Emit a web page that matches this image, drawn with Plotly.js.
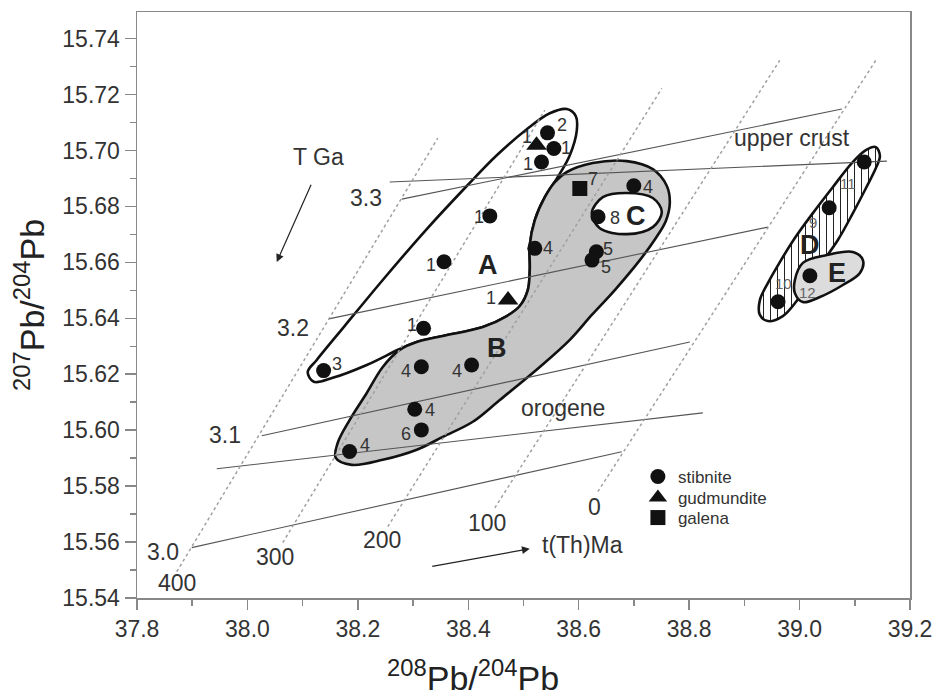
<!DOCTYPE html>
<html><head><meta charset="utf-8">
<script src="https://cdn.plot.ly/plotly-3.0.1.min.js"></script>
<style>html,body{margin:0;padding:0;background:#fff;}#chart{width:938px;height:700px;}</style>
</head><body><div id="chart"></div>
<script>
// ---- data (208Pb/204Pb, 207Pb/204Pb) ----
const stibX = [38.5435, 38.555, 38.5326, 38.439, 38.5205, 38.356, 38.319, 38.138, 38.315, 38.406, 38.303, 38.315, 38.185, 38.6998, 38.635, 38.632, 38.624, 39.117, 39.0536, 39.0187, 38.961];
const stibY = [15.7063, 15.7007, 15.6959, 15.6766, 15.665, 15.6602, 15.6364, 15.6213, 15.6227, 15.6233, 15.6075, 15.6001, 15.5924, 15.6874, 15.6763, 15.6638, 15.6608, 15.6959, 15.6795, 15.6552, 15.6459];
const stibLab = ['2','1','1','1','4','1','1','3','4','4','4','6','4','4','8','5','5','11','9','12','10'];
const gudX = [38.5236, 38.472];
const gudY = [15.7019, 15.6465];
const gudLab = ['1','1'];
const galX = [38.602];
const galY = [15.6864];
const galLab = ['7'];

// field outlines
const fieldAX = [38.5785,38.5947,38.5966,38.5839,38.5621,38.5386,38.5205,38.5114,38.5114,38.5078,38.4933,38.4697,38.4263,38.3538,38.3067,38.2759,38.2161,38.1545,38.1201,38.1092,38.1255,38.1763,38.2451,38.3248,38.3973,38.4516,38.5060,38.5476,38.5785];
const fieldAY = [15.7148,15.7123,15.7073,15.6983,15.6905,15.6833,15.6751,15.6662,15.6573,15.6501,15.6444,15.6408,15.6369,15.6337,15.6315,15.6290,15.6233,15.6187,15.6173,15.6208,15.6251,15.6373,15.6537,15.6719,15.6873,15.6983,15.7076,15.7133,15.7148];
const fieldBX = [38.5785,38.6255,38.6871,38.7342,38.7596,38.7650,38.7578,38.7397,38.7107,38.6654,38.6237,38.5839,38.5295,38.4571,38.4082,38.3538,38.3067,38.2451,38.1889,38.1600,38.1636,38.1853,38.2161,38.2451,38.2759,38.3067,38.3538,38.4263,38.4697,38.4933,38.5078,38.5114,38.5114,38.5205,38.5386,38.5567,38.5785];
const fieldBY = [15.6923,15.6955,15.6962,15.6933,15.6873,15.6812,15.6748,15.6687,15.6608,15.6501,15.6412,15.6323,15.6226,15.6108,15.6030,15.5976,15.5930,15.5894,15.5876,15.5901,15.5955,15.6037,15.6133,15.6226,15.6287,15.6315,15.6337,15.6369,15.6408,15.6444,15.6501,15.6573,15.6662,15.6751,15.6833,15.6887,15.6923];
const fieldCX = [38.6237,38.6437,38.6871,38.7342,38.7505,38.7342,38.6871,38.6382,38.6237];
const fieldCY = [15.6776,15.6833,15.6848,15.6830,15.6780,15.6726,15.6701,15.6722,15.6776];
const fieldDX = [39.1382,39.1455,39.1382,39.1201,39.0966,39.0694,39.0404,39.0150,38.9933,38.9697,38.9426,38.9281,38.9281,38.9426,38.9643,38.9915,39.0241,39.0603,39.0947,39.1201,39.1382];
const fieldDY = [15.7012,15.6980,15.6937,15.6865,15.6776,15.6680,15.6598,15.6523,15.6458,15.6408,15.6390,15.6412,15.6465,15.6526,15.6601,15.6687,15.6776,15.6869,15.6955,15.7001,15.7012];
const fieldEX = [38.9915,39.0060,39.0495,39.0966,39.1147,39.1093,39.0784,39.0368,39.0060,38.9915,38.9915];
const fieldEY = [15.6537,15.6598,15.6626,15.6637,15.6608,15.6562,15.6519,15.6476,15.6458,15.6490,15.6537];

// model lines (solid) and time lines (dotted)
const modelX = [[38.2578,39.1582],[38.2795,39.0766],[38.1473,38.9425],[38.0259,38.8012],[37.9444,38.8248],[37.8991,38.678]];
const modelY = [[15.6887,15.6962],[15.6826,15.7148],[15.6398,15.6726],[15.598,15.6315],[15.5862,15.6062],[15.558,15.5923]];
const isoX = [[37.872,38.3447],[38.064,38.5386],[38.2542,38.7505],[38.448,38.964],[38.6346,39.138]];
const isoY = [[15.5494,15.7044],[15.5598,15.7144],[15.5655,15.7222],[15.5722,15.7322],[15.578,15.7322]];

// text labels
const txt = ['T Ga','3.3','3.2','3.1','3.0','400','300','200','100','0','orogene','upper crust','t(Th)Ma'];
const txtX = [38.1292,38.2143,38.0821,37.9591,37.8466,37.8719,38.0494,38.2433,38.4335,38.6292,38.5714,38.9861,38.6074];
const txtY = [15.6976,15.683,15.6365,15.5983,15.5565,15.5455,15.5548,15.5608,15.5669,15.5726,15.608,15.7044,15.559];
const fieldLab = ['A','B','C','D','E'];
const fieldLabX = [38.4357,38.4520,38.7038,39.0190,39.0679];
const fieldLabY = [15.659,15.6294,15.6765,15.6662,15.6562];

// ---- presentation ----
const FONT = 'Liberation Sans, Arial, sans-serif';
const stibOff = [[14,-8],[12,-1],[-14,2],[-11,1],[13,0],[-13,3],[-12,-3],[13,-7],[-15,4],[-15,6],[15,1],[-15,4],[15,-6],[14,1],[17,1],[12,-3],[14,7],[-16,22],[-16,15],[-2,17],[5,-18]];
const gudOff = [[-10,-8],[-17,-2]];
const galOff = [[13,-10]];

const traces = [];
function field(x, y, fill, extra) {
  const t = {x: x, y: y, mode: 'lines', fill: 'toself', fillcolor: fill,
    line: {color: '#111', width: 2.6, shape: 'spline', smoothing: 1}, hoverinfo: 'skip', showlegend: false};
  return Object.assign(t, extra || {});
}
traces.push(field(fieldAX, fieldAY, '#ffffff'));
traces.push(field(fieldBX, fieldBY, '#c6c6c6'));
traces.push(field(fieldCX, fieldCY, '#ffffff'));
traces.push(field(fieldDX, fieldDY, '#ffffff', {fillpattern: {shape: '|', fgcolor: '#222', bgcolor: '#ffffff', size: 7, solidity: 0.15}}));
traces.push(field(fieldEX, fieldEY, '#dcdcdc'));
for (let i = 0; i < modelX.length; i++) {
  traces.push({x: modelX[i], y: modelY[i], mode: 'lines', line: {color: '#555', width: 1.1}, hoverinfo: 'skip', showlegend: false});
}
for (let i = 0; i < isoX.length; i++) {
  traces.push({x: isoX[i], y: isoY[i], mode: 'lines', line: {color: '#a0a0a0', width: 1.5, dash: 'dot'}, hoverinfo: 'skip', showlegend: false});
}
traces.push({x: stibX, y: stibY, mode: 'markers', name: 'stibnite', legend: 'legend', marker: {symbol: 'circle', size: 15, color: '#111'}});
traces.push({x: gudX, y: gudY, mode: 'markers', name: 'gudmundite', legend: 'legend2', marker: {symbol: 'triangle-up', size: 18, color: '#111'}});
traces.push({x: galX, y: galY, mode: 'markers', name: 'galena', legend: 'legend3', marker: {symbol: 'square', size: 15, color: '#111'}});

const ann = [];
function ptLabels(xs, ys, labs, offs) {
  for (let i = 0; i < xs.length; i++) {
    const small = labs[i].length > 1 || labs[i] === '9';
    ann.push({x: xs[i], y: ys[i], xref: 'x', yref: 'y', text: labs[i], showarrow: false,
      xshift: offs[i][0], yshift: -offs[i][1],
      font: {family: FONT, size: small ? 15 : 18, color: small ? '#666' : '#333'}});
  }
}
ptLabels(stibX, stibY, stibLab, stibOff);
ptLabels(gudX, gudY, gudLab, gudOff);
ptLabels(galX, galY, galLab, galOff);
for (let i = 0; i < txt.length; i++) {
  ann.push({x: txtX[i], y: txtY[i], xref: 'x', yref: 'y', text: txt[i], showarrow: false,
    font: {family: FONT, size: 23, color: '#333'}});
}
for (let i = 0; i < fieldLab.length; i++) {
  ann.push({x: fieldLabX[i], y: fieldLabY[i], xref: 'x', yref: 'y', text: '<b>' + fieldLab[i] + '</b>', showarrow: false,
    font: {family: FONT, size: 27, color: '#222'}});
}
// arrows
ann.push({x: 38.0531, y: 15.6601, ax: 38.1165, ay: 15.6883, xref: 'x', yref: 'y', axref: 'x', ayref: 'y',
  text: '', showarrow: true, arrowhead: 2, arrowsize: 1.3, arrowwidth: 1.2, arrowcolor: '#222'});
ann.push({x: 38.5114, y: 15.5576, ax: 38.332, ay: 15.5512, xref: 'x', yref: 'y', axref: 'x', ayref: 'y',
  text: '', showarrow: true, arrowhead: 2, arrowsize: 1.3, arrowwidth: 1.2, arrowcolor: '#222'});
// axis titles
ann.push({x: 0, y: 0.5, xref: 'paper', yref: 'paper', xanchor: 'center', yanchor: 'middle', xshift: -108,
  text: '<sup>207</sup>Pb/<sup>204</sup>Pb', textangle: -90, showarrow: false, font: {family: FONT, size: 34, color: '#222'}});
ann.push({x: 0.435, y: 0, xref: 'paper', yref: 'paper', xanchor: 'center', yanchor: 'middle', yshift: -77,
  text: '<sup>208</sup>Pb/<sup>204</sup>Pb', showarrow: false, font: {family: FONT, size: 34, color: '#222'}});

const legStyle = (yy) => ({x: 0.648, y: yy, xanchor: 'left', yanchor: 'middle', bgcolor: 'rgba(0,0,0,0)',
  font: {family: FONT, size: 17, color: '#333'}, itemwidth: 30});

const layout = {
  width: 938, height: 700,
  margin: {l: 137, r: 28, t: 12, b: 102},
  paper_bgcolor: '#fff', plot_bgcolor: '#fff',
  font: {family: FONT, color: '#333'},
  showlegend: true,
  legend: legStyle(0.2065),
  legend2: legStyle(0.1706),
  legend3: legStyle(0.1365),
  xaxis: {range: [37.8, 39.2], dtick: 0.2, tick0: 37.8, tickformat: '.1f', showgrid: false, zeroline: false,
    showline: true, linecolor: '#888', linewidth: 1.5, mirror: true,
    ticks: 'outside', ticklen: 10, tickwidth: 1.5, tickcolor: '#888',
    minor: {dtick: 0.1, ticks: 'outside', ticklen: 6, tickwidth: 1.5, tickcolor: '#888', showgrid: false},
    tickfont: {family: FONT, size: 23, color: '#333'}},
  yaxis: {range: [15.54, 15.7495], dtick: 0.02, tick0: 15.54, tickformat: '.2f', showgrid: false, zeroline: false,
    showline: true, linecolor: '#888', linewidth: 1.5, mirror: true,
    ticks: 'outside', ticklen: 11, tickwidth: 1.5, tickcolor: '#888',
    minor: {dtick: 0.01, ticks: 'outside', ticklen: 6, tickwidth: 1.5, tickcolor: '#888', showgrid: false},
    tickfont: {family: FONT, size: 23, color: '#333'}},
  annotations: ann
};
Plotly.newPlot('chart', traces, layout, {staticPlot: true});
</script></body></html>
